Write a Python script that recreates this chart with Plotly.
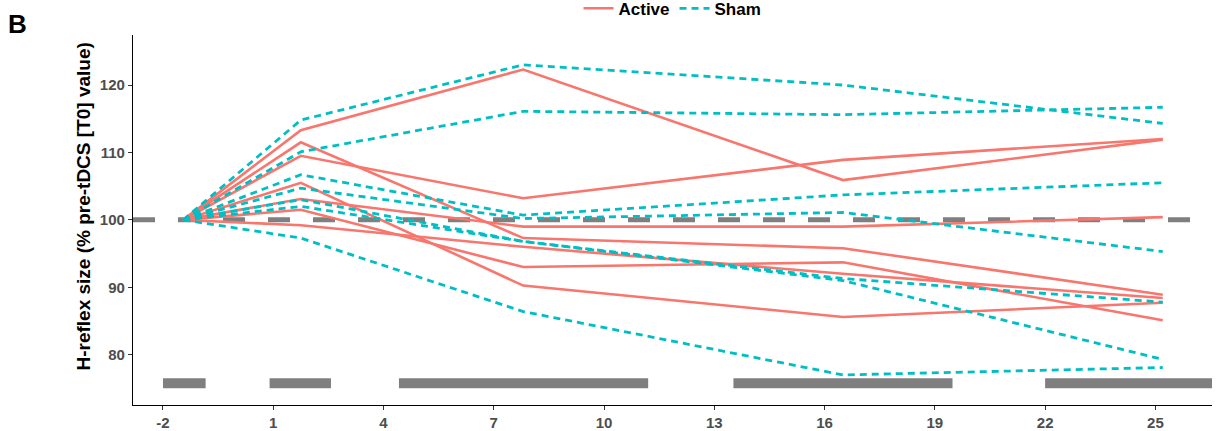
import plotly.graph_objects as go

# ---- data -------------------------------------------------------------
times = [-1.45, 1.75, 7.8, 16.5, 25.2]

active_1 = [100, 113.3, 122.3, 105.9, 111.9]
active_2 = [100, 109.5, 103.2, 108.9, 112.0]
active_3 = [100, 111.5, 97.3, 95.8, 88.9]
active_4 = [100, 105.5, 90.25, 85.6, 87.7]
active_5 = [100, 101.5, 93.0, 93.7, 85.1]
active_6 = [100, 103.1, 99.0, 99.0, 100.4]
active_7 = [100, 99.2, 96.0, 92.0, 88.4]

sham_1 = [100, 114.8, 123.0, 120.0, 114.3]
sham_2 = [100, 110.1, 116.1, 115.6, 116.7]
sham_3 = [100, 97.3, 86.4, 77.0, 78.1]
sham_4 = [100, 106.7, 100.7, 103.7, 105.5]
sham_5 = [100, 104.7, 100.2, 101.1, 95.3]
sham_6 = [100, 103.0, 96.8, 91.3, 87.8]
sham_7 = [100, 102.0, 96.8, 91.0, 79.3]

active_series = [active_1, active_2, active_3, active_4, active_5, active_6, active_7]
sham_series = [sham_1, sham_2, sham_3, sham_4, sham_5, sham_6, sham_7]

period_starts = [-2.0, 0.9, 4.42, 13.52, 22.0]
period_ends = [-0.84, 2.57, 11.2, 19.48, 28.4]
period_level = 75.75

baseline = 100
x_ticks = [-2, 1, 4, 7, 10, 13, 16, 19, 22, 25]
y_ticks = [80, 90, 100, 110, 120]

ACTIVE_COLOR = "#F8766D"
SHAM_COLOR = "#00BFC4"
GREY = "#7F7F7F"
FONT = "Liberation Sans, Arial, sans-serif"

fig = go.Figure()

# period bars
for s, e in zip(period_starts, period_ends):
    fig.add_trace(go.Scatter(
        x=[s, e], y=[period_level, period_level], mode="lines",
        line=dict(color=GREY, width=10), showlegend=False, hoverinfo="skip"))

for i, ys in enumerate(active_series):
    fig.add_trace(go.Scatter(
        x=times, y=ys, mode="lines", name="Active", legendgroup="Active",
        showlegend=(i == 0), line=dict(color=ACTIVE_COLOR, width=2.6)))

for i, ys in enumerate(sham_series):
    fig.add_trace(go.Scatter(
        x=times, y=ys, mode="lines", name="Sham", legendgroup="Sham",
        showlegend=(i == 0), line=dict(color=SHAM_COLOR, width=2.8, dash="7px,5px")))

fig.add_shape(type="line", xref="paper", yref="y", x0=0, x1=1, y0=baseline, y1=baseline,
              line=dict(color=GREY, width=5, dash="22px,23px"), layer="below")

axis_common = dict(showgrid=False, zeroline=False, showline=True, linecolor="black",
                   linewidth=1.2, ticks="outside", ticklen=4, tickcolor="#333333",
                   tickwidth=1.1,
                   tickfont=dict(family=FONT, size=15, color="#4D4D4D", weight="bold"))

fig.update_xaxes(range=[-2.816, 26.54], tickmode="array", tickvals=x_ticks,
                 ticktext=[str(v) for v in x_ticks], automargin=False, **axis_common)
fig.update_yaxes(range=[72.54, 127.42], tickmode="array", tickvals=y_ticks,
                 ticktext=[str(v) for v in y_ticks], automargin=False, **axis_common)

fig.add_annotation(text="H-reflex size (% pre-tDCS [T0] value)", textangle=-90,
                   xref="paper", yref="paper", x=-0.0463, y=0.5365,
                   xanchor="center", yanchor="middle", showarrow=False,
                   font=dict(family=FONT, size=19, color="black", weight="bold"))
fig.add_annotation(text="B", xref="paper", yref="paper", x=-0.1066, y=1.0297,
                   xanchor="center", yanchor="middle", showarrow=False,
                   font=dict(family=FONT, size=26, color="black", weight="bold"))

fig.update_layout(
    width=1221, height=431,
    margin=dict(l=133, r=9, t=35, b=26, autoexpand=False),
    paper_bgcolor="white", plot_bgcolor="white",
    font=dict(family=FONT),
    legend=dict(orientation="h", x=0.5, xanchor="center", y=1.071, yanchor="middle",
                font=dict(family=FONT, size=17, color="black", weight="bold"),
                bgcolor="rgba(0,0,0,0)", itemwidth=30, tracegroupgap=0),
)

fig.write_html("out.html")
